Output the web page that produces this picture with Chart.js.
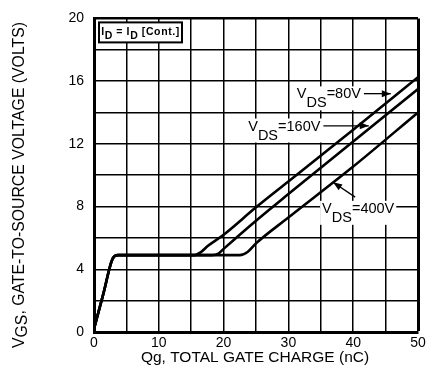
<!DOCTYPE html>
<html>
<head>
<meta charset="utf-8">
<script src="https://cdn.jsdelivr.net/npm/chart.js@4.4.0/dist/chart.umd.min.js"></script>
<style>
  html, body { margin: 0; padding: 0; background: #fff; }
</style>
</head>
<body>
<canvas id="gateChart" width="429" height="369"></canvas>
<script>
// gate charge curves
const qg80 = [0, 1.45, 2.9, 3.7, 15.3, 16.5, 17.6, 20, 25, 30, 40, 50];
const vgs80 = [0.2, 2.45, 4.7, 4.9, 4.9, 5.1, 5.5, 6.2, 7.95, 9.6, 12.9, 16.25];
const qg160 = [0, 1.45, 2.9, 3.7, 18.2, 19.2, 20, 25, 30, 40, 50];
const vgs160 = [0.2, 2.45, 4.7, 4.9, 4.9, 5.0, 5.3, 7.1, 8.8, 12.15, 15.5];
const qg400 = [0, 1.45, 2.9, 3.7, 22.5, 23.7, 25, 30, 40, 50];
const vgs400 = [0.2, 2.45, 4.7, 4.9, 4.9, 5.1, 5.65, 7.3, 10.55, 14.0];

const vdsLabels = ['=80V', '=160V', '=400V'];
const xTickLabels = [0, 10, 20, 30, 40, 50];
const yTickLabels = [0, 4, 8, 12, 16, 20];

const FONT = '"Liberation Sans", Arial, sans-serif';

const toPts = (xs, ys) => xs.map((q, i) => ({ x: q, y: ys[i] }));

const curve = (label, xs, ys) => ({
  label: label,
  data: toPts(xs, ys),
  showLine: true,
  borderColor: '#000',
  borderWidth: 2.6,
  pointRadius: 0,
  cubicInterpolationMode: 'monotone',
  fill: false
});

// where the V_DS notes sit (data units), arrows point at the curves
const notes = [
  { text: vdsLabels[0], x: 31.3, y: 14.9, arrow: { x1: null, y1: 15.2, x2: 45.8, y2: 15.2 } },
  { text: vdsLabels[1], x: 23.8, y: 12.85, arrow: { x1: null, y1: 13.15, x2: 42.4, y2: 13.15 } },
  { text: vdsLabels[2], x: 35.2, y: 7.6, arrow: { x1: 40.3, y1: 8.6, x2: 36.9, y2: 9.55 } }
];

// draws text with subscript pieces, returns width
function richText(ctx, parts, x, y, size, subDrop, dry) {
  let cx = x;
  parts.forEach(p => {
    ctx.font = (p.bold ? 'bold ' : '') + size + 'px ' + FONT;
    if (!dry) ctx.fillText(p.t, cx, p.sub ? y + subDrop : y);
    cx += ctx.measureText(p.t).width;
  });
  return cx - x;
}

function arrowHead(ctx, x1, y1, x2, y2) {
  const a = Math.atan2(y2 - y1, x2 - x1);
  const len = 9, w = 3.5;
  ctx.beginPath();
  ctx.moveTo(x2, y2);
  ctx.lineTo(x2 - len * Math.cos(a) + w * Math.sin(a), y2 - len * Math.sin(a) - w * Math.cos(a));
  ctx.lineTo(x2 - len * Math.cos(a) - w * Math.sin(a), y2 - len * Math.sin(a) + w * Math.cos(a));
  ctx.closePath();
  ctx.fill();
}

const annot = {
  id: 'annot',
  beforeDatasetsDraw(chart) {
    const { ctx, scales: { x, y } } = chart;
    ctx.save();
    ctx.fillStyle = '#fff';
    notes.forEach(n => {
      const px = x.getPixelForValue(n.x), py = y.getPixelForValue(n.y);
      const w = richText(ctx, [{ t: 'V' }, { t: 'DS', sub: true }, { t: n.text }], px, py, 14.5, 9, true);
      ctx.fillRect(px - 2, py - 12, w + 4, 24);
    });
    ctx.restore();
  },
  afterDraw(chart) {
    const { ctx, scales: { x, y }, chartArea } = chart;
    ctx.save();
    ctx.fillStyle = '#000';
    ctx.strokeStyle = '#000';
    ctx.textBaseline = 'alphabetic';

    // V_DS notes
    notes.forEach(n => {
      const px = x.getPixelForValue(n.x), py = y.getPixelForValue(n.y);
      const w = richText(ctx, [{ t: 'V' }, { t: 'DS', sub: true }, { t: n.text }], px, py, 14.5, 9);
      const a = n.arrow;
      const ax1 = a.x1 === null ? px + w + 3 : x.getPixelForValue(a.x1);
      const ay1 = y.getPixelForValue(a.y1);
      const ax2 = x.getPixelForValue(a.x2), ay2 = y.getPixelForValue(a.y2);
      ctx.lineWidth = 1.3;
      ctx.beginPath();
      ctx.moveTo(ax1, ay1);
      ctx.lineTo(ax2, ay2);
      ctx.stroke();
      arrowHead(ctx, ax1, ay1, ax2, ay2);
    });

    // I_D = I_D [Cont.] box
    const bx = chartArea.left + 5, by = chartArea.top + 4, bw = 83, bh = 20;
    ctx.fillStyle = '#fff';
    ctx.fillRect(bx, by, bw, bh);
    ctx.lineWidth = 2;
    ctx.strokeRect(bx, by, bw, bh);
    ctx.fillStyle = '#000';
    const boxParts = [{ t: 'I', bold: true }, { t: 'D', sub: true, bold: true }, { t: ' = ', bold: true },
      { t: 'I', bold: true }, { t: 'D', sub: true, bold: true }, { t: ' [Cont.]', bold: true }];
    ctx.letterSpacing = '0.6px';
    const bwText = richText(ctx, boxParts, 0, 0, 10.5, 4, true);
    richText(ctx, boxParts, bx + (bw - bwText) / 2, by + 13, 10.5, 4);
    ctx.letterSpacing = '0px';

    // x title
    const xParts = [{ t: 'Qg, TOTAL GATE CHARGE (nC)' }];
    const xw = richText(ctx, xParts, 0, 0, 15.5, 0, true);
    richText(ctx, xParts, 255 - xw / 2, 362, 15.5, 0);

    // y title, rotated
    ctx.translate(24, 185);
    ctx.rotate(-Math.PI / 2);
    const yParts = [{ t: 'V' }, { t: 'GS', sub: true }, { t: ', GATE-TO-SOURCE VOLTAGE (VOLTS)' }];
    const yw = richText(ctx, yParts, 0, 0, 15.8, 3, true);
    richText(ctx, yParts, -yw / 2, 0, 15.8, 3);
    ctx.restore();
  }
};

new Chart(document.getElementById('gateChart'), {
  type: 'scatter',
  data: {
    datasets: [
      curve('VDS=80V', qg80, vgs80),
      curve('VDS=160V', qg160, vgs160),
      curve('VDS=400V', qg400, vgs400)
    ]
  },
  options: {
    responsive: false,
    animation: false,
    layout: { padding: { left: 0, top: 10, right: 11, bottom: 0 } },
    plugins: {
      legend: { display: false },
      tooltip: { enabled: false }
    },
    scales: {
      x: {
        type: 'linear',
        min: 0,
        max: 50,
        afterFit: (s) => { s.height = 37; },
        ticks: {
          stepSize: 5,
          padding: 3,
          color: '#000',
          font: { family: FONT, size: 14 },
          maxRotation: 0,
          callback: (v) => xTickLabels.includes(v) ? v : ''
        },
        grid: {
          color: '#000',
          lineWidth: (c) => (c.tick && c.tick.value === 50) ? 3 : 1.5,
          drawTicks: false
        },
        border: { color: '#000', width: 3 }
      },
      y: {
        min: 0,
        max: 20,
        afterFit: (s) => { s.width = 94; },
        ticks: {
          stepSize: 2,
          padding: 10,
          color: '#000',
          font: { family: FONT, size: 14 },
          callback: (v) => yTickLabels.includes(v) ? v : ''
        },
        grid: {
          color: '#000',
          lineWidth: (c) => (c.tick && c.tick.value === 20) ? 2.5 : 1.5,
          drawTicks: false
        },
        border: { color: '#000', width: 3 }
      }
    }
  },
  plugins: [annot]
});
</script>
</body>
</html>
